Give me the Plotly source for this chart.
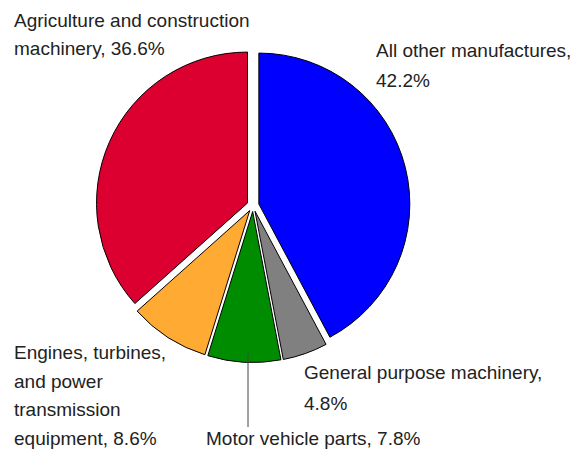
import plotly.graph_objects as go

labels = ["All other manufactures", "General purpose machinery", "Motor vehicle parts",
          "Engines, turbines, and power transmission equipment", "Agriculture and construction machinery"]
values = [42.2, 4.8, 7.8, 8.6, 36.6]
colors = ["#0000FF", "#808080", "#008C00", "#FFAA33", "#DC0030"]

# label lines: (text, left px, top px)
label_lines = [
    ("Agriculture and construction", 12, 7.7),
    ("machinery, 36.6%", 12, 35.7),
    ("All other manufactures,", 374, 38.5),
    ("42.2%", 374, 67.5),
    ("General purpose machinery,", 302, 360),
    ("4.8%", 302, 391),
    ("Motor vehicle parts, 7.8%", 204, 426),
    ("Engines, turbines,", 12, 340),
    ("and power", 12, 368.5),
    ("transmission", 12, 397),
    ("equipment, 8.6%", 12, 425.5),
]

W, H = 570, 451
fig = go.Figure(go.Pie(
    labels=labels, values=values, sort=False, direction="clockwise", rotation=0,
    marker=dict(colors=colors, line=dict(color="black", width=1)),
    pull=[0.04]*5, textinfo="none", hoverinfo="label+percent",
    domain=dict(x=[96/W, 410/W], y=[1-362.5/H, 1-48.5/H]),
))
font = dict(family="Liberation Sans, Arial, sans-serif", size=19, color="#222222")
for t, x, y in label_lines:
    fig.add_annotation(text=t, x=x/W, y=1-y/H, xref="paper", yref="paper", xanchor="left", yanchor="top",
                       align="left", showarrow=False, font=font)
# leader line for Motor vehicle parts
fig.add_shape(type="line", xref="paper", yref="paper", x0=248/W, x1=248/W, y0=1-353/H, y1=1-427/H,
              line=dict(color="#444444", width=1))
fig.update_layout(width=W, height=H, margin=dict(l=0, r=0, t=0, b=0), showlegend=False,
                  paper_bgcolor="white", plot_bgcolor="white")
fig.write_html("out.html", config={"displayModeBar": False},
               post_script="document.body.style.margin='0';")
